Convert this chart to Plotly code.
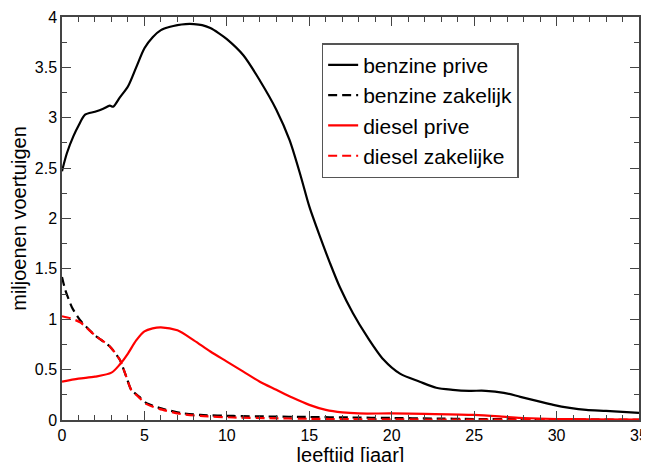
import plotly.graph_objects as go

# leeftijd [jaar] en miljoenen voertuigen
leeftijd_bp = [0, 0.3, 0.7, 1, 1.4, 2, 2.5, 2.9, 3.1, 3.5, 4, 4.5, 5, 5.5, 6, 6.5, 7, 7.5, 8, 8.5,
               9, 9.5, 10, 11, 12, 13, 13.8, 14.5, 15, 15.65, 16.25, 16.85, 17.65, 18.5, 19.5,
               20.5, 21.7, 22.7, 23.7, 24.7, 25.7, 26.8, 27.8, 28.8, 29.8, 30.8, 31.8, 33, 34, 35]
benzine_prive = [2.47, 2.65, 2.82, 2.92, 3.03, 3.06, 3.09, 3.12, 3.11, 3.2, 3.31, 3.5, 3.69, 3.8,
                 3.87, 3.9, 3.92, 3.93, 3.93, 3.92, 3.89, 3.84, 3.78, 3.62, 3.37, 3.08, 2.78, 2.41,
                 2.12, 1.82, 1.56, 1.32, 1.06, 0.83, 0.6, 0.46, 0.38, 0.32, 0.3, 0.29, 0.29, 0.27,
                 0.23, 0.19, 0.15, 0.12, 0.1, 0.09, 0.08, 0.07]

leeftijd_bz = [0, 0.2, 0.6, 1.1, 2, 2.9, 3.5, 3.9, 4.2, 4.7, 5.1, 5.9, 7.2, 8.4, 10.4, 12.5, 15,
               17.5, 20, 22.5, 25, 27.5, 30, 32.5, 35]
benzine_zakelijk = [1.42, 1.29, 1.12, 0.99, 0.84, 0.73, 0.6, 0.43, 0.3, 0.23, 0.17, 0.12, 0.07,
                    0.05, 0.04, 0.035, 0.03, 0.025, 0.02, 0.015, 0.01, 0.008, 0.005, 0.003, 0.002]

leeftijd_dp = [0, 1, 2, 3, 3.5, 4, 4.5, 5, 5.5, 6, 7, 8, 9, 10, 11, 12, 13, 14, 15, 16, 17, 18,
               20, 22, 25, 27, 28, 30, 32, 35]
diesel_prive = [0.38, 0.41, 0.43, 0.47, 0.55, 0.66, 0.79, 0.88, 0.91, 0.92, 0.89, 0.79, 0.68,
                0.58, 0.48, 0.38, 0.3, 0.22, 0.15, 0.1, 0.075, 0.065, 0.065, 0.06, 0.05, 0.03,
                0.02, 0.01, 0.007, 0.005]

leeftijd_dz = [0, 0.5, 1.1, 2, 2.9, 3.5, 3.9, 4.2, 4.7, 5.1, 5.9, 7.2, 8.4, 10.4, 12.5, 15,
               17.5, 20, 25, 30, 35]
diesel_zakelijke = [1.03, 1.01, 0.97, 0.84, 0.73, 0.6, 0.43, 0.3, 0.22, 0.16, 0.11, 0.06, 0.04,
                    0.025, 0.018, 0.012, 0.008, 0.006, 0.004, 0.002, 0.001]

fig = go.Figure()
fig.add_trace(go.Scatter(x=leeftijd_bp, y=benzine_prive, mode='lines', name='benzine prive',
                         line=dict(color='black', width=2.2, shape='spline', smoothing=0.8)))
fig.add_trace(go.Scatter(x=leeftijd_bz, y=benzine_zakelijk, mode='lines', name='benzine zakelijk',
                         line=dict(color='black', width=2.2, dash='9px,5px', shape='spline', smoothing=0.6)))
fig.add_trace(go.Scatter(x=leeftijd_dp, y=diesel_prive, mode='lines', name='diesel prive',
                         line=dict(color='red', width=2.2, shape='spline', smoothing=0.8)))
fig.add_trace(go.Scatter(x=leeftijd_dz, y=diesel_zakelijke, mode='lines', name='diesel zakelijke',
                         line=dict(color='red', width=2.2, dash='9px,5px', shape='spline', smoothing=0.6)))

as_stijl = dict(showgrid=False, zeroline=False, showline=True, linecolor='#444', linewidth=1.5,
                mirror='allticks', ticks='inside', ticklen=9, tickcolor='#444', tickwidth=1,
                tickfont=dict(size=16, color='black'), automargin=False)

# de pagina heeft 8px body-marge, daarom zijn de marges hier 8px verschoven
fig.update_layout(
    width=649, height=462,
    paper_bgcolor='white', plot_bgcolor='white',
    font=dict(family='Liberation Sans, Arial, sans-serif', color='black'),
    margin=dict(l=54, r=18, t=9, b=50),
    xaxis=dict(range=[0, 35], dtick=5, title=dict(text='leeftijd [jaar]', font=dict(size=20), standoff=4),
               minor=dict(dtick=1, ticks='inside', ticklen=5, tickcolor='#444'), **as_stijl),
    yaxis=dict(range=[0, 4], dtick=0.5, tickformat='~g',
               title=dict(text='miljoenen voertuigen', font=dict(size=20), standoff=4),
               minor=dict(dtick=0.25, ticks='inside', ticklen=5, tickcolor='#444'), **as_stijl),
    legend=dict(x=0.45, y=0.935, xanchor='left', yanchor='top', bgcolor='white',
                bordercolor='#555', borderwidth=1.5, font=dict(size=21), tracegroupgap=0,
                itemwidth=30),
)

fig.write_html("out.html")
